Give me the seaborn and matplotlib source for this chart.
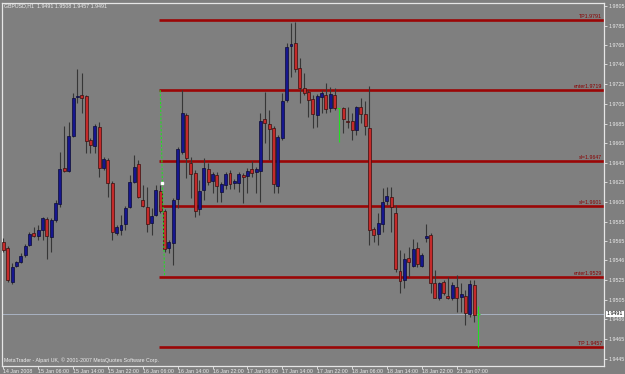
import numpy as np
import pandas as pd
import matplotlib
matplotlib.use("Agg")
import matplotlib.pyplot as plt
import seaborn as sns
from matplotlib.transforms import blended_transform_factory

# ---- data (H1 candles, GBPUSD) ----
opens = [1.9564, 1.9558, 1.9523, 1.9540, 1.9544, 1.9551, 1.9561, 1.9573, 1.9570, 1.9577,
         1.9588, 1.9569, 1.9587, 1.9603, 1.9640, 1.9637, 1.9672, 1.9712, 1.9714, 1.9713,
         1.9668, 1.9662, 1.9682, 1.9640, 1.9648, 1.9624, 1.9573, 1.9577, 1.9583, 1.9600,
         1.9625, 1.9644, 1.9607, 1.9600, 1.9584, 1.9592, 1.9616, 1.9596, 1.9558, 1.9563,
         1.9608, 1.9656, 1.9694, 1.9645, 1.9635, 1.9598, 1.9617, 1.9639, 1.9626, 1.9633,
         1.9615, 1.9622, 1.9635, 1.9624, 1.9624, 1.9633, 1.9632, 1.9639, 1.9636, 1.9637,
         1.9690, 1.9685, 1.9681, 1.9621, 1.9670, 1.9709, 1.9764, 1.9767, 1.9742, 1.9721,
         1.9717, 1.9710, 1.9694, 1.9712, 1.9714, 1.9701, 1.9714, 1.9701, 1.9701, 1.9688,
         1.9688, 1.9678, 1.9702, 1.9695, 1.9681, 1.9578, 1.9572, 1.9583, 1.9606, 1.9610,
         1.9594, 1.9535, 1.9526, 1.9548, 1.9540, 1.9558, 1.9540, 1.9568, 1.9571, 1.9522,
         1.9507, 1.9523, 1.9509, 1.9507, 1.9518, 1.9508, 1.9509, 1.9491, 1.9520, 1.9491]
highs = [1.9568, 1.9560, 1.9543, 1.9545, 1.9553, 1.9562, 1.9574, 1.9580, 1.9582, 1.9590,
         1.9590, 1.9589, 1.9607, 1.9656, 1.9683, 1.9687, 1.9716, 1.9741, 1.9737, 1.9714,
         1.9670, 1.9685, 1.9687, 1.9651, 1.9650, 1.9626, 1.9582, 1.9592, 1.9601, 1.9633,
         1.9653, 1.9648, 1.9622, 1.9620, 1.9599, 1.9622, 1.9622, 1.9598, 1.9566, 1.9609,
         1.9661, 1.9719, 1.9696, 1.9651, 1.9638, 1.9627, 1.9650, 1.9645, 1.9636, 1.9636,
         1.9625, 1.9636, 1.9638, 1.9629, 1.9636, 1.9635, 1.9640, 1.9647, 1.9641, 1.9696,
         1.9717, 1.9699, 1.9683, 1.9673, 1.9716, 1.9767, 1.9788, 1.9789, 1.9752, 1.9737,
         1.9719, 1.9714, 1.9715, 1.9719, 1.9726, 1.9722, 1.9721, 1.9701, 1.9702, 1.9702,
         1.9696, 1.9703, 1.9711, 1.9708, 1.9723, 1.9580, 1.9594, 1.9619, 1.9620, 1.9620,
         1.9602, 1.9556, 1.9553, 1.9559, 1.9567, 1.9564, 1.9553, 1.9583, 1.9573, 1.9536,
         1.9523, 1.9525, 1.9529, 1.9523, 1.9531, 1.9522, 1.9515, 1.9526, 1.9526, 1.9499]
lows = [1.9554, 1.9523, 1.9521, 1.9539, 1.9543, 1.9549, 1.9560, 1.9569, 1.9566, 1.9566,
        1.9547, 1.9554, 1.9585, 1.9600, 1.9636, 1.9636, 1.9671, 1.9706, 1.9696, 1.9655,
        1.9655, 1.9655, 1.9631, 1.9638, 1.9610, 1.9566, 1.9571, 1.9571, 1.9577, 1.9599,
        1.9624, 1.9609, 1.9600, 1.9574, 1.9571, 1.9591, 1.9594, 1.9554, 1.9553, 1.9541,
        1.9599, 1.9654, 1.9630, 1.9609, 1.9590, 1.9592, 1.9607, 1.9622, 1.9614, 1.9605,
        1.9605, 1.9618, 1.9618, 1.9618, 1.9615, 1.9604, 1.9614, 1.9631, 1.9614, 1.9605,
        1.9665, 1.9648, 1.9614, 1.9614, 1.9668, 1.9707, 1.9733, 1.9738, 1.9706, 1.9714,
        1.9692, 1.9681, 1.9682, 1.9696, 1.9696, 1.9697, 1.9699, 1.9666, 1.9675, 1.9681,
        1.9668, 1.9673, 1.9686, 1.9673, 1.9561, 1.9564, 1.9561, 1.9574, 1.9602, 1.9574,
        1.9534, 1.9512, 1.9517, 1.9529, 1.9539, 1.9539, 1.9539, 1.9564, 1.9512, 1.9507,
        1.9505, 1.9510, 1.9506, 1.9505, 1.9493, 1.9493, 1.9480, 1.9488, 1.9483, 1.9457]
closes = [1.9556, 1.9525, 1.9539, 1.9544, 1.9550, 1.9560, 1.9572, 1.9570, 1.9576, 1.9589,
          1.9570, 1.9587, 1.9604, 1.9639, 1.9637, 1.9672, 1.9711, 1.9713, 1.9711, 1.9667,
          1.9663, 1.9683, 1.9640, 1.9649, 1.9624, 1.9574, 1.9580, 1.9582, 1.9599, 1.9625,
          1.9641, 1.9610, 1.9601, 1.9583, 1.9591, 1.9617, 1.9596, 1.9557, 1.9564, 1.9607,
          1.9659, 1.9696, 1.9650, 1.9634, 1.9596, 1.9616, 1.9640, 1.9625, 1.9634, 1.9621,
          1.9623, 1.9634, 1.9623, 1.9626, 1.9634, 1.9631, 1.9637, 1.9635, 1.9639, 1.9688,
          1.9686, 1.9680, 1.9623, 1.9671, 1.9708, 1.9763, 1.9766, 1.9741, 1.9721, 1.9716,
          1.9709, 1.9695, 1.9713, 1.9716, 1.9700, 1.9715, 1.9701, 1.9701, 1.9690, 1.9687,
          1.9678, 1.9702, 1.9695, 1.9683, 1.9577, 1.9571, 1.9584, 1.9605, 1.9611, 1.9600,
          1.9537, 1.9524, 1.9547, 1.9544, 1.9557, 1.9542, 1.9551, 1.9570, 1.9522, 1.9507,
          1.9522, 1.9512, 1.9507, 1.9520, 1.9507, 1.9511, 1.9492, 1.9521, 1.9490, 1.9491]

xtick_bars = [0, 8, 16, 24, 32, 40, 48, 56, 64, 72, 80, 88, 96, 104]
xtick_labels = ["14 Jan 2008", "15 Jan 06:00", "15 Jan 14:00", "15 Jan 22:00",
                "16 Jan 06:00", "16 Jan 14:00", "16 Jan 22:00", "17 Jan 06:00",
                "17 Jan 14:00", "17 Jan 22:00", "18 Jan 06:00", "18 Jan 14:00",
                "18 Jan 22:00", "21 Jan 07:00"]
ytick_values = [1.9805, 1.9785, 1.9765, 1.9746, 1.9725, 1.9705, 1.9685, 1.9665, 1.9645,
                1.9625, 1.9605, 1.9585, 1.9565, 1.9546, 1.9525, 1.9505, 1.9486, 1.9465, 1.9445]
ytick_labels = [f"{v:.4f}" for v in ytick_values]

level_prices = [1.9791, 1.9719, 1.9647, 1.9601, 1.9529, 1.9457]
level_labels = ["TP1.9791", "enter1.9719", "sl=1.9647", "sl=1.9601", "enter1.9529", "TP 1.9457"]
level_start_bar = 35.8
current_price = 1.9491
trend_bars = [36, 37]
trend_prices = [1.9719, 1.9529]
header = "GBPUSD,H1  1.9491 1.9508 1.9457 1.9491"
footer = "MetaTrader - Alpari UK, \u00a9 2001-2007 MetaQuotes Software Corp."

# ---- styling ----
BG = "#7f7f7f"
FS = 3.8
sns.set_theme(style="dark", rc={"axes.facecolor": BG, "figure.facecolor": BG})
plt.rcParams["font.family"] = ["Liberation Sans", "DejaVu Sans"]

df = pd.DataFrame({"bar": np.arange(len(opens)), "open": opens, "high": highs,
                   "low": lows, "close": closes})
bull = df[df.close > df.open]
bear = df[df.close < df.open]
doji = df[df.close == df.open]
nondoji = df[df.close != df.open]

fig = plt.figure(figsize=(6.25, 3.74), dpi=100)
ax = fig.add_axes([2 / 625, 8 / 374, 602 / 625, 363 / 374])
ax.set_facecolor(BG)
XMAX = 137.8
ax.set_xlim(-0.3, XMAX)
ax.set_ylim(1.94378, 1.98080)

# current price line
ax.axhline(current_price, color="#a9b2c2", lw=0.7, zorder=1)

# level lines
ax.hlines(level_prices, level_start_bar, XMAX, color="#9a0606", lw=1.9, zorder=2)
for p, lab in zip(level_prices, level_labels):
    ax.text(XMAX - 0.4, p + 0.00008, lab, ha="right", va="bottom", fontsize=FS,
            color="#8a0000", zorder=5)

# candles
ax.vlines(nondoji.bar, nondoji.low, nondoji.high, color="#363636", lw=0.8, zorder=3)
ax.bar(bull.bar, bull.close - bull.open, bottom=bull.open, width=0.68,
       color="#16168e", edgecolor="#0c0c35", linewidth=0.5, zorder=4)
ax.bar(bear.bar, bear.close - bear.open, bottom=bear.open, width=0.68,
       color="#c42a2a", edgecolor="#3a0e0e", linewidth=0.5, zorder=4)
ax.vlines(doji.bar, doji.low, doji.high, color="#22dd22", lw=0.8, zorder=4)
ax.hlines(doji.open, doji.bar - 0.35, doji.bar + 0.35, color="#22dd22", lw=0.8, zorder=4)

# trend line (selected object)
ax.plot(trend_bars, trend_prices, color="#22dd22", lw=0.8, ls=(0, (2, 1.5)), zorder=5)
ax.plot([np.mean(trend_bars)], [np.mean(trend_prices)], marker="s", ms=1.8,
        color="white", zorder=6)

# axes
for s in ax.spines.values():
    s.set_color("#e6e6e6")
    s.set_linewidth(0.9)
ax.yaxis.tick_right()
ax.set_yticks(ytick_values)
ax.set_yticklabels(ytick_labels)
ax.set_xticks(xtick_bars)
ax.set_xticklabels(xtick_labels)
ax.tick_params(axis="y", which="both", right=True, length=2, width=0.6, pad=1.2,
               colors="#e6e6e6", labelsize=FS, labelcolor="#ececec")
ax.tick_params(axis="x", which="both", bottom=True, length=2, width=0.6, pad=0.5,
               colors="#e6e6e6", labelsize=FS, labelcolor="#ececec")
for t in ax.get_xticklabels():
    t.set_ha("left")
ax.grid(False)

# current price label box on the price scale
tr = blended_transform_factory(ax.transAxes, ax.transData)
ax.text(1.0045, current_price, f"{current_price:.4f}", transform=tr, ha="left",
        va="center", fontsize=FS, color="black", zorder=10, clip_on=False,
        bbox=dict(boxstyle="square,pad=0.15", fc="white", ec="none"))

fig.text(4 / 625, 1 - 6 / 374, header, ha="left", va="center", fontsize=FS, color="#ececec")
fig.text(4 / 625, 1 - 360 / 374, footer, ha="left", va="center", fontsize=FS, color="#ececec")

fig.savefig("out.png", dpi=100, facecolor=BG)
